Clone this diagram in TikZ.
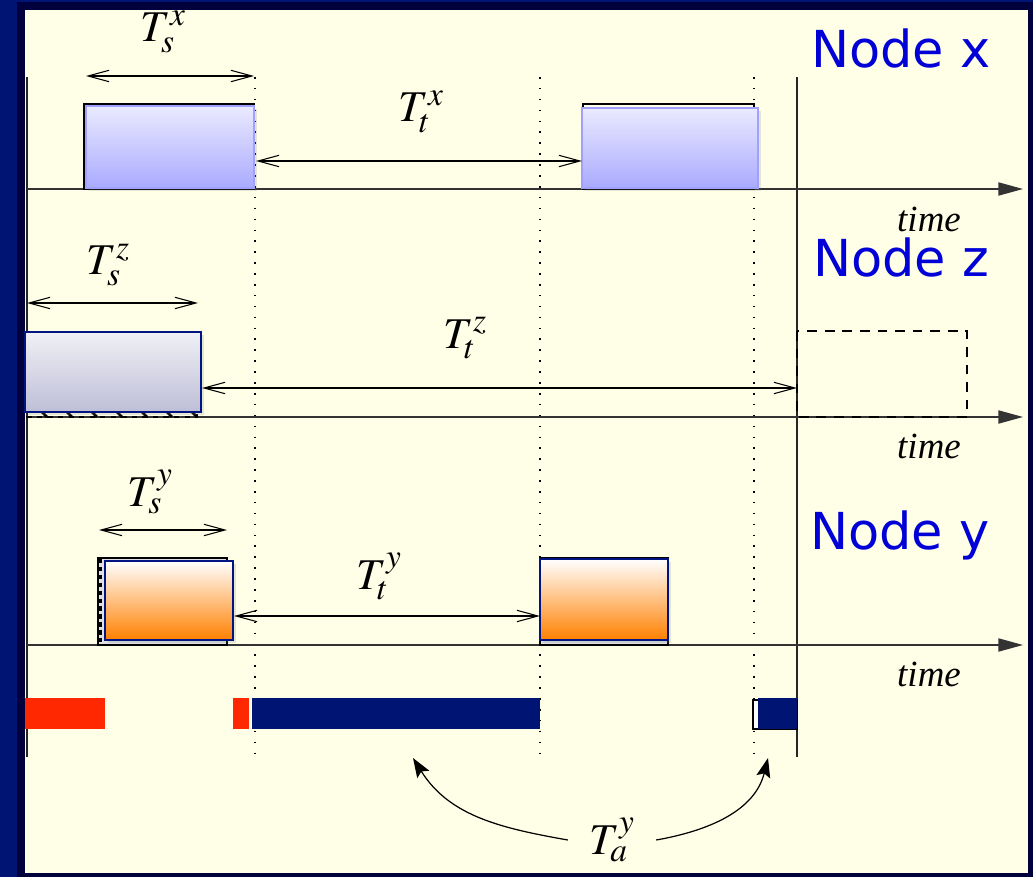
\documentclass[tikz,border=0pt]{standalone}
\usepackage{mathptmx}
\usepackage{fontspec}
\setmainfont{Liberation Serif}
\newfontfamily\nodefont{DejaVu Sans}
\DeclareMathSizes{25}{25}{19}{15}
\usetikzlibrary{arrows.meta, shadows}

\definecolor{bgnavy}{RGB}{0,20,115}
\definecolor{bgdark}{RGB}{0,0,60}
\definecolor{paper}{RGB}{255,255,232}
\definecolor{xtop}{RGB}{234,234,255}
\definecolor{xbot}{RGB}{170,170,255}
\definecolor{xline}{RGB}{160,160,255}
\definecolor{ztop}{RGB}{240,240,246}
\definecolor{zbot}{RGB}{190,190,215}
\definecolor{ybot}{RGB}{255,128,0}
\definecolor{boxnavy}{RGB}{0,20,130}
\definecolor{barred}{RGB}{255,40,0}
\definecolor{titleblue}{RGB}{0,0,215}

\tikzset{
  axis/.style = {draw=black!80, line width=0.7pt, -{Triangle[length=14pt, width=7.5pt]}},
  dim/.style = {line width=0.6pt, {Straight Barb[length=12pt, width=6.5pt]}-{Straight Barb[length=12pt, width=6.5pt]}},
  slotline/.style = {draw=black!85, line width=0.6pt},
  gridline/.style = {line width=0.9pt, dash pattern=on 0.9pt off 5.3pt},
  slot/.style = {draw=black, line width=0.7pt},
  shade box/.style = {drop shadow={opacity=0.2, shadow xshift=0.06cm, shadow yshift=-0.06cm}},
  xbox/.style = {shade box, draw=xline, line width=1.2pt, top color=xtop, bottom color=xbot},
  zbox/.style = {shade box, draw=boxnavy, line width=1.3pt, top color=ztop, bottom color=zbot},
  ybox/.style = {shade box, draw=boxnavy, line width=1.3pt, top color=white, bottom color=ybot},
  lbl/.style = {font=\fontsize{21}{25}\selectfont, inner sep=0pt},
  mlbl/.style = {font=\fontsize{25}{30}\selectfont, inner sep=0pt},
  nodetitle/.style = {font=\nodefont\fontsize{29}{34}\selectfont, text=titleblue, anchor=base},
  period/.style = {line width=0.7pt, -{Stealth[length=11pt, width=8pt, inset=2pt]}}
}

\begin{document}
\begin{tikzpicture}

  %% Frame
  \useasboundingbox (0,0) rectangle (20.66,17.54);
  \fill[bgnavy] (0,0) rectangle (20.66,17.54);
  \fill[bgdark] (0.34,0) rectangle (20.66,17.5);
  \fill[paper] (0.5,0.08) rectangle (20.56,17.34);

  % Borders of the round and slot instants
  \draw[slotline] (0.54,16.0) -- (0.54,2.4);
  \draw[slotline] (15.94,16.0) -- (15.94,2.4);
  \foreach \x in {5.1, 10.8, 15.08}
    \draw[gridline] (\x,16.0) -- (\x,2.4);

  % Time axes
  \foreach \y in {13.76, 9.2, 4.64}
    \draw[axis] (0.54,\y) -- (20.46,\y);
  \foreach \y/\n in {12.9/x, 8.36/z, 3.82/y}
    \node[lbl, anchor=base] (time\n) at (18.58,\y) {\textit{time}};

  %% Node x
  \node[nodetitle] (titlex) at (18.02,16.18) {Node x};
  \draw[slot] (1.68,15.46) rectangle (5.08,13.76);
  \draw[xbox] (1.72,15.42) rectangle (5.08,13.78);
  \draw[slot] (11.66,15.46) rectangle (15.08,13.76);
  \draw[xbox] (11.64,15.38) rectangle (15.16,13.78);

  \draw[dim] (1.72,16.02) -- (5.08,16.02);
  \node[mlbl] (Tsx) at (3.26,16.9) {$T_s^x$};
  \draw[dim] (5.12,14.32) -- (11.64,14.32);
  \node[mlbl] (Ttx) at (8.42,15.3) {$T_t^x$};

  %% Node z
  \node[nodetitle] (titlez) at (18.02,12.0) {Node z};
  \draw[slot, dashed] (0.54,10.9) rectangle (3.94,9.2);
  \foreach \x in {0.9,1.4,...,3.9}
    \draw[line width=1.6pt] (\x-0.06,9.3) -- (\x+0.04,9.2);
  \draw[zbox] (0.5,10.9) rectangle (4.02,9.3);
  \draw[slot, dashed, dash pattern=on 5.5pt off 4.5pt] (15.94,10.92) rectangle (19.34,9.2);

  \draw[dim] (0.54,11.48) -- (3.96,11.48);
  \node[mlbl] (Tsz) at (2.16,12.24) {$T_s^z$};
  \draw[dim] (4.04,9.78) -- (15.94,9.78);
  \node[mlbl] (Ttz) at (9.3,10.78) {$T_t^z$};

  %% Node y
  \node[nodetitle] (titley) at (18.0,6.54) {Node y};
  \draw[slot, fill=black!12] (1.96,6.38) rectangle (4.54,4.64);
  \draw[line width=2.2pt, dash pattern=on 2.5pt off 2pt] (2.0,6.36) -- (2.0,4.64);
  \draw[ybox] (2.1,6.32) rectangle (4.66,4.74);
  \draw[slot, fill=black!12] (10.8,6.38) rectangle (13.36,4.64);
  \draw[ybox] (10.8,6.36) rectangle (13.36,4.74);

  \draw[dim] (1.98,6.94) -- (4.54,6.94);
  \node[mlbl] (Tsy) at (3.0,7.7) {$T_s^y$};
  \draw[dim] (4.68,5.22) -- (10.8,5.22);
  \node[mlbl] (Tty) at (7.58,6.02) {$T_t^y$};

  %% Activity of node y
  \fill[barred] (0.5,3.58) rectangle (2.1,2.96);
  \fill[barred] (4.66,3.58) rectangle (4.98,2.96);
  \fill[bgnavy] (5.04,3.58) rectangle (10.8,2.96);
  \draw[line width=0.6pt, fill=white] (15.06,3.54) rectangle (15.94,2.96);
  \fill[bgnavy] (15.16,3.58) rectangle (15.94,2.96);

  % Awake periods
  \node[mlbl, inner sep=0.42cm] (Tay) at (12.24,0.74) {$T_a^y$};
  \coordinate (awake1) at (8.26,2.38);
  \coordinate (awake2) at (15.36,2.38);
  \draw[period] (Tay.west) to[out=170, in=-58] (awake1);
  \draw[period] (Tay.east) to[out=10, in=-104] (awake2);

\end{tikzpicture}
\end{document}
